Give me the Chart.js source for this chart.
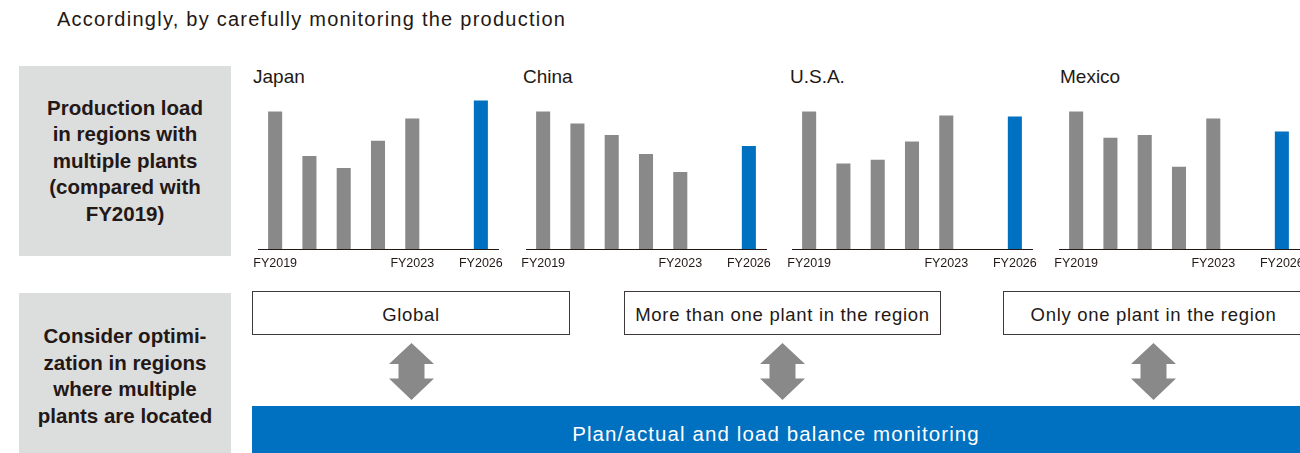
<!DOCTYPE html>
<html lang="en">
  <head>
    <meta charset="UTF-8" />
    <title>Production load in regions with multiple plants</title>
    <script src="https://cdn.jsdelivr.net/npm/chart.js"></script>
    <style>
      body {
        margin: 0;
        font-family: "Liberation Sans", Arial, sans-serif;
        color: #231815;
        background: #fff;
      }
      #page {
        position: relative;
        width: 1300px;
        height: 453px;
        overflow: hidden;
      }
      .abs {
        position: absolute;
      }
      .intro {
        left: 57px;
        top: 7px;
        font-size: 20px;
        line-height: 24px;
        letter-spacing: 1.25px;
        white-space: nowrap;
      }
      .side {
        background: #dcdddd;
        display: flex;
        align-items: center;
        justify-content: center;
        text-align: center;
        font-weight: bold;
        font-size: 20.5px;
        line-height: 26.5px;
      }
      .region {
        font-size: 19px;
        line-height: 22px;
      }
      .scope {
        box-sizing: border-box;
        border: 1px solid #3e3a39;
        background: #fff;
        display: flex;
        align-items: center;
        justify-content: center;
        padding-top: 4px;
        font-size: 18.5px;
        letter-spacing: 0.7px;
        white-space: nowrap;
      }
      .monitor {
        left: 252px;
        top: 406px;
        width: 1060px;
        height: 47px;
        background: #0070c0;
      }
      .monitorText {
        left: 252px;
        top: 423px;
        width: 1048px;
        text-align: center;
        color: #fff;
        font-size: 20.5px;
        letter-spacing: 1.1px;
        line-height: 22px;
        white-space: nowrap;
      }
    </style>
  </head>
  <body>
    <div id="page">
      <div class="abs intro">Accordingly, by carefully monitoring the production</div>

      <div class="abs side" style="left:19px;top:66px;width:212px;height:190px;">
        <div>Production load<br />in regions with<br />multiple plants<br />(compared with<br />FY2019)</div>
      </div>
      <div class="abs side" style="left:19px;top:293px;width:212px;height:166px;">
        <div>Consider optimi-<br />zation in regions<br />where multiple<br />plants are located</div>
      </div>

      <div id="panels"></div>

      <div class="abs scope" style="left:252px;top:291px;width:318px;height:44px;">Global</div>
      <div class="abs scope" style="left:624px;top:291px;width:317px;height:44px;">More than one plant in the region</div>
      <div class="abs scope" style="left:1003px;top:291px;width:301px;height:44px;">Only one plant in the region</div>

      <div id="arrows"></div>

      <div class="abs monitor"></div>
      <div class="abs monitorText">Plan/actual and load balance monitoring</div>
    </div>

    <script>
      // production load, FY2019 = 100 (the gap slot stands for the omitted years)
      const categories = ["FY2019", "FY2020", "FY2021", "FY2022", "FY2023", "FY2024-25", "FY2026"];
      const tickLabels = ["FY2019", "FY2023", "FY2026"];
      const planCategory = "FY2026";

      const regionNames = ["Japan", "China", "U.S.A.", "Mexico"];
      const japanLoad = [100, 67.6, 58.9, 78.8, 94.9, null, 108.0];
      const chinaLoad = [100, 91.2, 83.0, 69.1, 56.0, null, 74.9];
      const usaLoad = [100, 62.1, 65.0, 78.2, 97.1, null, 96.4];
      const mexicoLoad = [100, 81.0, 83.0, 59.9, 94.9, null, 85.4];

      const GRAY = "#898989";
      const BLUE = "#0070c0";
      const TEXT = "#231815";
      const FONT = '"Liberation Sans", Arial, sans-serif';

      const panelLeft = [258, 526, 792, 1059];
      const titleLeft = [253, 523, 790, 1060];
      const arrowCenters = [411, 782, 1153];

      const SIDE_PAD = 25;
      const CHART_W = 240;

      function makePanel(idx, values) {
        const page = document.getElementById("panels");

        const title = document.createElement("div");
        title.className = "abs region";
        title.style.left = titleLeft[idx] + "px";
        title.style.top = "66px";
        title.textContent = regionNames[idx];
        page.appendChild(title);

        const canvas = document.createElement("canvas");
        canvas.className = "abs";
        canvas.width = CHART_W + SIDE_PAD * 2;
        canvas.height = 183;
        canvas.style.left = panelLeft[idx] - SIDE_PAD + "px";
        canvas.style.top = "95px";
        page.appendChild(canvas);

        new Chart(canvas.getContext("2d"), {
          type: "bar",
          data: {
            labels: categories,
            datasets: [
              {
                data: values,
                backgroundColor: categories.map((c) => (c === planCategory ? BLUE : GRAY)),
                borderWidth: 0,
                barPercentage: 0.41,
                categoryPercentage: 1,
              },
            ],
          },
          options: {
            responsive: false,
            animation: false,
            layout: { padding: { left: SIDE_PAD, right: SIDE_PAD, top: 0, bottom: 0 } },
            plugins: {
              legend: { display: false },
              tooltip: { enabled: false },
            },
            scales: {
              x: {
                grid: { display: false, drawTicks: false },
                border: { display: true, color: TEXT, width: 1 },
                ticks: {
                  autoSkip: false,
                  maxRotation: 0,
                  padding: 7,
                  color: TEXT,
                  font: { family: FONT, size: 12.5 },
                  callback: function (value) {
                    const label = this.getLabelForValue(value);
                    return tickLabels.includes(label) ? label : "";
                  },
                },
              },
              y: { display: false, min: 0, max: 112 },
            },
          },
        });
      }

      function makeArrows() {
        const holder = document.getElementById("arrows");
        arrowCenters.forEach((cx) => {
          const svg = document.createElementNS("http://www.w3.org/2000/svg", "svg");
          svg.setAttribute("width", "45");
          svg.setAttribute("height", "57");
          svg.setAttribute("class", "abs");
          svg.style.left = cx - 22.5 + "px";
          svg.style.top = "343px";
          const poly = document.createElementNS("http://www.w3.org/2000/svg", "polygon");
          poly.setAttribute(
            "points",
            "22.5,0 45,21 35.5,21 35.5,35.5 45,35.5 22.5,57 0,35.5 9.5,35.5 9.5,21 0,21"
          );
          poly.setAttribute("fill", "#898989");
          svg.appendChild(poly);
          holder.appendChild(svg);
        });
      }

      [japanLoad, chinaLoad, usaLoad, mexicoLoad].forEach((vals, i) => makePanel(i, vals));
      makeArrows();
    </script>
  </body>
</html>
